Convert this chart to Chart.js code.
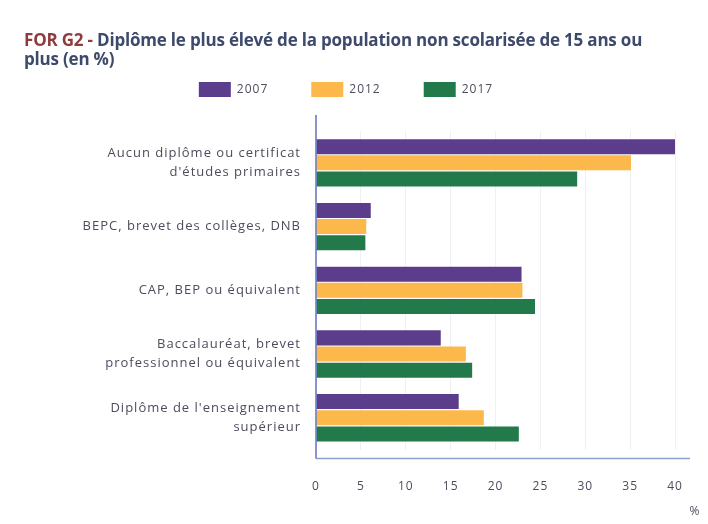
<!DOCTYPE html>
<html lang="fr">
<head>
<meta charset="utf-8">
<script src="https://cdn.jsdelivr.net/npm/chart.js@4"></script>
<style>
  html, body { margin: 0; padding: 0; background: #fff; }
  #wrap { position: relative; width: 708px; height: 524px; }
  #title {
    position: absolute; left: 24px; top: 30px;
    font: bold 17px "Open Sans", sans-serif; line-height: 19px;
    color: #3d4a6c; letter-spacing: -0.2px;
  }
  #title .code { color: #8e3c3c; }
  canvas { position: absolute; left: 0; top: 0; }
</style>
</head>
<body>
<div id="wrap">
  <canvas id="chart" width="708" height="524"></canvas>
  <div id="title"><span class="code">FOR G2 - </span>Diplôme le plus élevé de la population non scolarisée de 15 ans ou<br>plus (en %)</div>
</div>
<script>
// ── Data ──
var categories = [
  ['Aucun diplôme ou certificat', "d'études primaires"],
  'BEPC, brevet des collèges, DNB',
  'CAP, BEP ou équivalent',
  ['Baccalauréat, brevet', 'professionnel ou équivalent'],
  ["Diplôme de l'enseignement", 'supérieur']
];
var years = ['2007', '2012', '2017'];
var values2007 = [40.1, 6.1, 22.9, 13.9, 15.9];
var values2012 = [35.1, 5.6, 23.0, 16.7, 18.7];
var values2017 = [29.1, 5.5, 24.4, 17.4, 22.6];
var xTicks = [0, 5, 10, 15, 20, 25, 30, 35, 40];

var colors = ['#5b3d8c', '#fcb84b', '#22794a'];
var textColor = '#4b4d5c';

// the original's text is loosely spaced
function spaceOut(chart) { chart.ctx.letterSpacing = '1px'; }
var looseText = {
  id: 'looseText',
  beforeInit: spaceOut,
  beforeUpdate: spaceOut,
  beforeDraw: spaceOut
};

// extra room under the legend
var legendGap = {
  id: 'legendGap',
  beforeInit: function(chart) {
    var fit = chart.legend.fit;
    chart.legend.fit = function() {
      fit.bind(chart.legend)();
      this.height += 24;
    };
  }
};

// axis lines run a bit past the plot area, like the original
var axisLines = {
  id: 'axisLines',
  afterDraw: function(chart) {
    var a = chart.chartArea, ctx = chart.ctx;
    ctx.save();
    ctx.lineWidth = 1.5;
    ctx.strokeStyle = '#8f9fd0';
    ctx.beginPath();
    ctx.moveTo(a.left, a.bottom + 9);
    ctx.lineTo(a.right + 15, a.bottom + 9);
    ctx.stroke();
    ctx.strokeStyle = '#5f74bd';
    ctx.beginPath();
    ctx.moveTo(a.left, a.top - 16);
    ctx.lineTo(a.left, a.bottom + 9);
    ctx.stroke();
    ctx.fillStyle = textColor;
    ctx.font = '12px "Open Sans", sans-serif';
    ctx.textAlign = 'center';
    ctx.textBaseline = 'middle';
    ctx.fillText('%', a.right + 20, a.bottom + 62);
    ctx.restore();
  }
};

new Chart(document.getElementById('chart'), {
  type: 'bar',
  data: {
    labels: categories,
    datasets: [
      { label: years[0], data: values2007, backgroundColor: colors[0] },
      { label: years[1], data: values2012, backgroundColor: colors[1] },
      { label: years[2], data: values2017, backgroundColor: colors[2] }
    ]
  },
  options: {
    indexAxis: 'y',
    responsive: false,
    animation: false,
    categoryPercentage: 0.76,
    barPercentage: 0.93,
    layout: { padding: { top: 39, right: 33, bottom: 0, left: 17 } },
    plugins: {
      legend: {
        position: 'top',
        labels: {
          boxWidth: 32, boxHeight: 15, padding: 43,
          color: textColor,
          font: { family: '"Open Sans", sans-serif', size: 12 }
        }
      },
      tooltip: { enabled: false }
    },
    scales: {
      x: {
        min: 0, max: 40,
        afterBuildTicks: function(s) { s.ticks = xTicks.map(function(v) { return { value: v }; }); },
        afterFit: function(s) { s.paddingRight = 0; },
        grid: { color: '#eef0f6', tickLength: 0, drawTicks: false },
        border: { display: false },
        ticks: {
          color: textColor, padding: 30,
          font: { family: '"Open Sans", sans-serif', size: 12 }
        }
      },
      y: {
        afterFit: function(s) { s.width = 299; },
        grid: { display: false },
        border: { display: false },
        ticks: {
          color: textColor, padding: 7,
          font: { family: '"Open Sans", sans-serif', size: 13, lineHeight: 1.45 }
        }
      }
    }
  },
  plugins: [looseText, legendGap, axisLines]
});
</script>
</body>
</html>
